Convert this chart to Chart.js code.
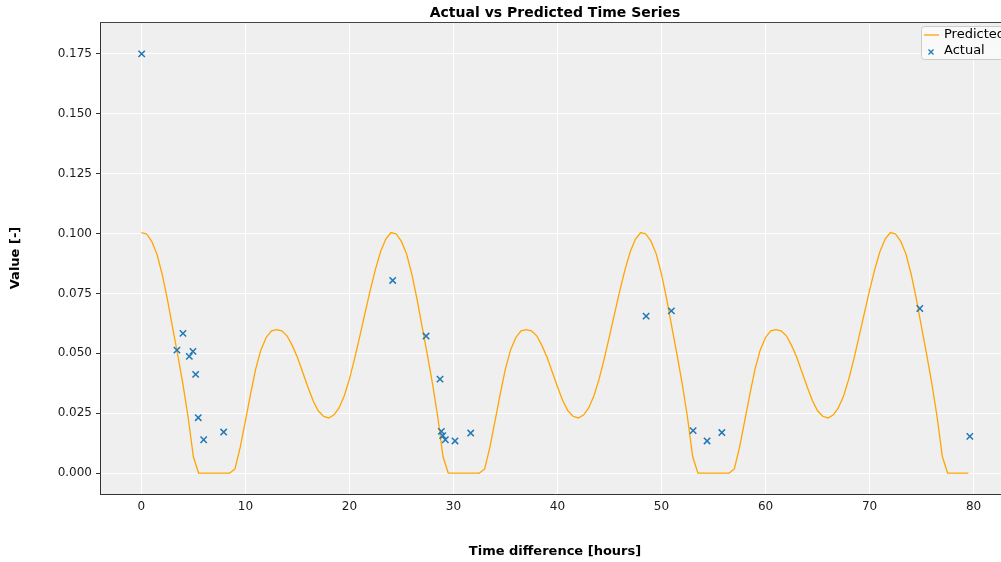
<!DOCTYPE html>
<html>
<head>
<meta charset="utf-8">
<title>Actual vs Predicted Time Series</title>
<script src="https://cdn.jsdelivr.net/npm/chart.js@4/dist/chart.umd.min.js"></script>
<style>
  html, body { margin: 0; padding: 0; background: #fff; overflow: hidden; }
  #wrap { width: 1001px; height: 562px; overflow: hidden; }
  canvas { display: block; }
</style>
</head>
<body>
<div id="wrap"><canvas id="chart" width="1020" height="562"></canvas></div>
<script>
"use strict";

const TITLE = "Actual vs Predicted Time Series";

// Model output, sampled every half hour (hours since start)
const predTimes = [
  0, 0.5, 1, 1.5, 2, 2.5, 3, 3.5, 4, 4.5, 5, 5.5, 6, 6.5, 7, 7.5,
  8, 8.5, 9, 9.5, 10, 10.5, 11, 11.5, 12, 12.5, 13, 13.5, 14, 14.5, 15, 15.5,
  16, 16.5, 17, 17.5, 18, 18.5, 19, 19.5, 20, 20.5, 21, 21.5, 22, 22.5, 23, 23.5,
  24, 24.5, 25, 25.5, 26, 26.5, 27, 27.5, 28, 28.5, 29, 29.5, 30, 30.5, 31, 31.5,
  32, 32.5, 33, 33.5, 34, 34.5, 35, 35.5, 36, 36.5, 37, 37.5, 38, 38.5, 39, 39.5,
  40, 40.5, 41, 41.5, 42, 42.5, 43, 43.5, 44, 44.5, 45, 45.5, 46, 46.5, 47, 47.5,
  48, 48.5, 49, 49.5, 50, 50.5, 51, 51.5, 52, 52.5, 53, 53.5, 54, 54.5, 55, 55.5,
  56, 56.5, 57, 57.5, 58, 58.5, 59, 59.5, 60, 60.5, 61, 61.5, 62, 62.5, 63, 63.5,
  64, 64.5, 65, 65.5, 66, 66.5, 67, 67.5, 68, 68.5, 69, 69.5, 70, 70.5, 71, 71.5,
  72, 72.5, 73, 73.5, 74, 74.5, 75, 75.5, 76, 76.5, 77, 77.5, 78, 78.5, 79, 79.5,
];
const predValues = [
  0.1004, 0.0998, 0.0967, 0.0914, 0.0830, 0.0726, 0.0608, 0.0492, 0.0370, 0.0232, 0.0068, 0, 0, 0, 0, 0,
  0, 0, 0.0017, 0.0107, 0.0218, 0.0330, 0.0436, 0.0515, 0.0566, 0.0594, 0.0599, 0.0594, 0.0573, 0.0533, 0.0483, 0.0422,
  0.0360, 0.0303, 0.0260, 0.0237, 0.0230, 0.0242, 0.0272, 0.0322, 0.0392, 0.0478, 0.0572, 0.0668, 0.0763, 0.0850, 0.0925, 0.0977,
  0.1004, 0.0998, 0.0967, 0.0914, 0.0830, 0.0726, 0.0608, 0.0492, 0.0370, 0.0232, 0.0068, 0, 0, 0, 0, 0,
  0, 0, 0.0017, 0.0107, 0.0218, 0.0330, 0.0436, 0.0515, 0.0566, 0.0594, 0.0599, 0.0594, 0.0573, 0.0533, 0.0483, 0.0422,
  0.0360, 0.0303, 0.0260, 0.0237, 0.0230, 0.0242, 0.0272, 0.0322, 0.0392, 0.0478, 0.0572, 0.0668, 0.0763, 0.0850, 0.0925, 0.0977,
  0.1004, 0.0998, 0.0967, 0.0914, 0.0830, 0.0726, 0.0608, 0.0492, 0.0370, 0.0232, 0.0068, 0, 0, 0, 0, 0,
  0, 0, 0.0017, 0.0107, 0.0218, 0.0330, 0.0436, 0.0515, 0.0566, 0.0594, 0.0599, 0.0594, 0.0573, 0.0533, 0.0483, 0.0422,
  0.0360, 0.0303, 0.0260, 0.0237, 0.0230, 0.0242, 0.0272, 0.0322, 0.0392, 0.0478, 0.0572, 0.0668, 0.0763, 0.0850, 0.0925, 0.0977,
  0.1004, 0.0998, 0.0967, 0.0914, 0.0830, 0.0726, 0.0608, 0.0492, 0.0370, 0.0232, 0.0068, 0, 0, 0, 0, 0,
];

// Measurements
const actualTimes = [
  0.03, 3.42, 4.0, 4.61, 4.96, 5.22, 5.47, 5.99, 7.91,
  24.16, 27.37, 28.71, 28.84, 28.97, 29.22, 30.15, 31.66,
  48.52, 50.95, 53.04, 54.38, 55.8, 74.83, 79.64,
];
const actualValues = [
  0.175, 0.0513, 0.0583, 0.0487, 0.0508, 0.0412, 0.0231, 0.0139, 0.0171,
  0.0804, 0.0572, 0.0392, 0.0174, 0.0156, 0.0139, 0.0134, 0.0167,
  0.0655, 0.0677, 0.0177, 0.0134, 0.0169, 0.0687, 0.0153,
];

const xTicks = [0, 10, 20, 30, 40, 50, 60, 70, 80];
const yTicks = [0, 0.025, 0.05, 0.075, 0.1, 0.125, 0.15, 0.175];

const FONT = "'DejaVu Sans', 'Liberation Sans', sans-serif";
const PRED_COLOR = "#ffa500";
const ACT_COLOR = "#1f77b4";
const INK = "#1a1a1a";

Chart.defaults.font.family = FONT;

const pts = (xs, ys) => xs.map((x, i) => ({ x, y: ys[i] }));

// grey plot area, white figure, top spine and a title centred on the plot
const frame = {
  id: "frame",
  beforeDraw(c) {
    const { ctx, chartArea: a } = c;
    ctx.save();
    ctx.fillStyle = "#fff";
    ctx.fillRect(0, 0, c.width, c.height);
    ctx.fillStyle = "#efefef";
    ctx.fillRect(a.left, a.top, a.right - a.left, a.bottom - a.top);
    ctx.restore();
  },
  afterDraw(c) {
    const { ctx, chartArea: a } = c;
    ctx.save();
    ctx.strokeStyle = "#444";
    ctx.lineWidth = 1;
    ctx.beginPath();
    ctx.moveTo(a.left, a.top + 0.5);
    ctx.lineTo(a.right, a.top + 0.5);
    ctx.stroke();

    ctx.fillStyle = "#000";
    ctx.font = `bold 14px ${FONT}`;
    ctx.textAlign = "center";
    ctx.textBaseline = "middle";
    ctx.fillText(TITLE, (a.left + a.right) / 2, 13);
    ctx.restore();
  },
};

// legend box in the upper right corner of the plot
const cornerLegend = {
  id: "cornerLegend",
  afterDraw(c) {
    const { ctx, chartArea: a } = c;
    const x0 = a.right - 89, y0 = a.top + 4, w = 87, h = 33;
    ctx.save();
    ctx.fillStyle = "rgba(250,250,250,0.85)";
    ctx.strokeStyle = "#cccccc";
    ctx.lineWidth = 1;
    ctx.beginPath();
    ctx.roundRect(x0 + 0.5, y0 + 0.5, w, h, 3);
    ctx.fill();
    ctx.stroke();

    ctx.strokeStyle = PRED_COLOR;
    ctx.lineWidth = 1.3;
    ctx.beginPath();
    ctx.moveTo(x0 + 3, y0 + 9);
    ctx.lineTo(x0 + 18, y0 + 9);
    ctx.stroke();

    ctx.strokeStyle = ACT_COLOR;
    ctx.lineWidth = 1.3;
    const mx = x0 + 10, my = y0 + 26, r = 2.5;
    ctx.beginPath();
    ctx.moveTo(mx - r, my - r); ctx.lineTo(mx + r, my + r);
    ctx.moveTo(mx - r, my + r); ctx.lineTo(mx + r, my - r);
    ctx.stroke();

    ctx.fillStyle = "#000";
    ctx.font = `13px ${FONT}`;
    ctx.textBaseline = "middle";
    ctx.fillText(c.data.datasets[0].label, x0 + 23, y0 + 8.5);
    ctx.fillText(c.data.datasets[1].label, x0 + 23, y0 + 24.5);
    ctx.restore();
  },
};

new Chart(document.getElementById("chart"), {
  type: "line",
  data: {
    datasets: [
      {
        label: "Predicted",
        data: pts(predTimes, predValues),
        borderColor: PRED_COLOR,
        backgroundColor: PRED_COLOR,
        borderWidth: 1.3,
        pointRadius: 0,
        tension: 0,
        fill: false,
        order: 1,
      },
      {
        type: "scatter",
        label: "Actual",
        data: pts(actualTimes, actualValues),
        showLine: false,
        pointStyle: "crossRot",
        pointRadius: 4.5,
        borderColor: ACT_COLOR,
        backgroundColor: ACT_COLOR,
        borderWidth: 1.5,
        order: 0,
      },
    ],
  },
  options: {
    responsive: false,
    animation: false,
    devicePixelRatio: 1,
    layout: { padding: { top: 22, right: 10, bottom: 0, left: 0 } },
    plugins: {
      legend: { display: false },
      tooltip: { enabled: false },
      title: { display: false },
    },
    scales: {
      x: {
        type: "linear",
        min: -3.975,
        max: 83.5,
        afterBuildTicks: (s) => { s.ticks = xTicks.map((v) => ({ value: v })); },
        afterFit: (s) => { s.height = 68; },
        grid: { color: "#ffffff", lineWidth: 1, tickColor: "rgba(0,0,0,0)", tickLength: 4 },
        border: { display: true, color: "#333", width: 1 },
        ticks: { color: INK, font: { size: 12 }, padding: 1.5, maxRotation: 0 },
        title: {
          display: true,
          text: "Time difference [hours]",
          color: "#000",
          font: { size: 13, weight: "bold" },
          padding: { top: 2, bottom: 2.2 },
        },
      },
      y: {
        type: "linear",
        min: -0.00875,
        max: 0.1883,
        afterBuildTicks: (s) => { s.ticks = yTicks.map((v) => ({ value: v })); },
        afterFit: (s) => { s.width = 100; },
        grid: { color: "#ffffff", lineWidth: 1, tickColor: "#333", tickLength: 4 },
        border: { display: true, color: "#333", width: 1 },
        ticks: { color: INK, font: { size: 12 }, padding: 4, callback: (v) => Number(v).toFixed(3) },
        title: {
          display: true,
          text: "Value [-]",
          color: "#000",
          font: { size: 13, weight: "bold" },
          padding: { top: 8.2, bottom: 0 },
        },
      },
    },
  },
  plugins: [frame, cornerLegend],
});
</script>
</body>
</html>
